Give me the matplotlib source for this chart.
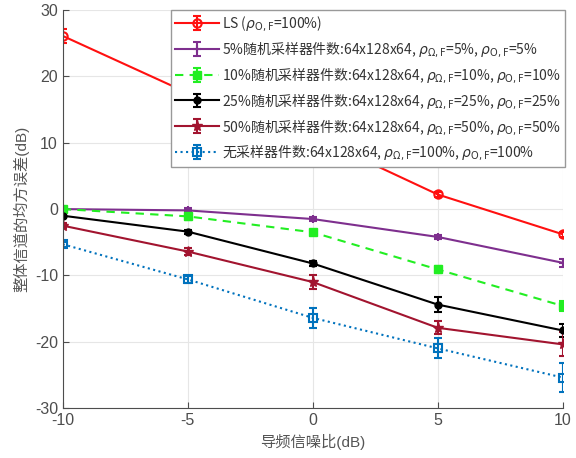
import matplotlib
matplotlib.use('Agg')
import matplotlib.pyplot as plt
from matplotlib.font_manager import FontProperties

plt.rcParams['font.family'] = ['Liberation Sans', 'Noto Sans CJK SC', 'DejaVu Sans']
plt.rcParams['mathtext.fontset'] = 'dejavusans'
plt.rcParams['axes.unicode_minus'] = False

snr = [-10, -5, 0, 5, 10]

ls_mse = [26.1, 17.5, 11.0, 2.2, -3.8]
ls_err = [1.0, 0.5, 0.5, 0.4, 0.4]
r5_mse = [0.0, -0.2, -1.5, -4.2, -8.1]
r5_err = [0.3, 0.3, 0.3, 0.3, 0.6]
r10_mse = [0.0, -1.1, -3.5, -9.1, -14.6]
r10_err = [0.3, 0.5, 0.4, 0.5, 0.8]
r25_mse = [-1.0, -3.4, -8.2, -14.4, -18.3]
r25_err = [0.3, 0.3, 0.4, 1.1, 1.0]
r50_mse = [-2.5, -6.4, -11.0, -17.9, -20.4]
r50_err = [0.4, 0.5, 1.0, 1.0, 1.8]
full_mse = [-5.3, -10.6, -16.4, -21.0, -25.4]
full_err = [0.4, 0.5, 1.5, 1.5, 2.2]

labels = [
    r'LS ($\rho_{\mathrm{O,F}}$=100%)',
    r'5%随机采样器件数:64x128x64, $\rho_{\Omega,\mathrm{F}}$=5%, $\rho_{\mathrm{O,F}}$=5%',
    r'10%随机采样器件数:64x128x64, $\rho_{\Omega,\mathrm{F}}$=10%, $\rho_{\mathrm{O,F}}$=10%',
    r'25%随机采样器件数:64x128x64, $\rho_{\Omega,\mathrm{F}}$=25%, $\rho_{\mathrm{O,F}}$=25%',
    r'50%随机采样器件数:64x128x64, $\rho_{\Omega,\mathrm{F}}$=50%, $\rho_{\mathrm{O,F}}$=50%',
    r'无采样器件数:64x128x64, $\rho_{\Omega,\mathrm{F}}$=100%, $\rho_{\mathrm{O,F}}$=100%',
]

fig = plt.figure(figsize=(5.76, 4.58), dpi=100)
ax = fig.add_axes([0.109, 0.109, 0.868, 0.869])

kw = dict(capsize=3, linewidth=1.5, elinewidth=1.5, capthick=1.5)
ax.errorbar(snr, ls_mse, yerr=ls_err, color='#FF1010', marker='o', markersize=6,
            markerfacecolor='none', markeredgewidth=1.5, label=labels[0], **kw)
ax.errorbar(snr, r5_mse, yerr=r5_err, color='#7E2F8E', marker='+', markersize=6,
            markeredgewidth=1.5, label=labels[1], **kw)
ax.errorbar(snr, r10_mse, yerr=r10_err, color='#22EE22', marker='s', markersize=6,
            linestyle=(0, (4, 3)), label=labels[2], **kw)
ax.errorbar(snr, r25_mse, yerr=r25_err, color='black', marker='o', markersize=5,
            label=labels[3], **kw)
ax.errorbar(snr, r50_mse, yerr=r50_err, color='#A2142F', marker='*', markersize=8,
            label=labels[4], **kw)
ax.errorbar(snr, full_mse, yerr=full_err, color='#0072BD', marker='s', markersize=6,
            markerfacecolor='none', markeredgewidth=1.5, linestyle=':',
            label=labels[5], **kw)

ax.set_xlim(-10, 10)
ax.set_ylim(-30, 30)
ax.set_xticks([-10, -5, 0, 5, 10])
ax.set_yticks([-30, -20, -10, 0, 10, 20, 30])
ax.grid(True, color='#E6E6E6', linewidth=0.8)
ax.set_axisbelow(True)
for s in ['top', 'right']:
    ax.spines[s].set_visible(False)
for s in ['left', 'bottom']:
    ax.spines[s].set_color('#4D4D4D')
ax.tick_params(direction='in', colors='#4D4D4D', labelsize=11.5, length=4)

ax.set_xlabel('导频信噪比(dB)', fontsize=11, color='#555555')
ax.set_ylabel('整体信道的均方误差(dB)', fontsize=11, color='#555555')

leg = ax.legend(loc='upper right', prop=FontProperties(family='Noto Sans CJK SC', size=10),
                fancybox=False, framealpha=1, edgecolor='#999999',
                borderpad=0.3, labelspacing=0.42, handlelength=3.2, handletextpad=0.2,
                borderaxespad=0.0, bbox_to_anchor=(1.005, 1.0))
leg.get_frame().set_linewidth(1.0)
for t in leg.get_texts():
    t.set_color('#333333')

fig.savefig('out.png')
